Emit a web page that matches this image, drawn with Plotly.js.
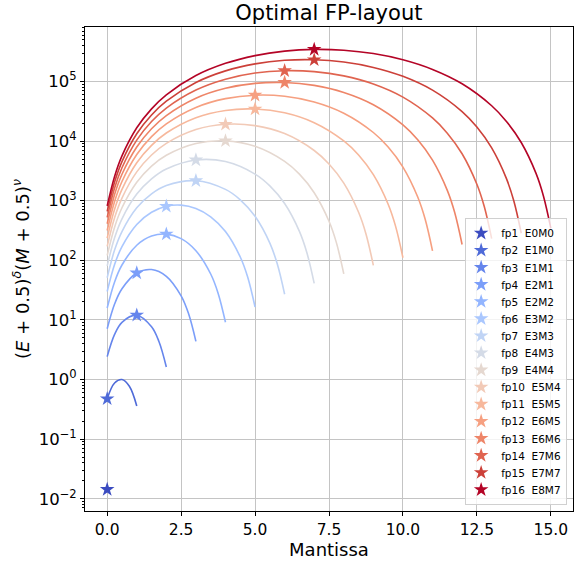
<!DOCTYPE html>
<html>
<head>
<meta charset="utf-8">
<script src="https://cdn.plot.ly/plotly-3.0.1.min.js"></script>
<style>html,body{margin:0;padding:0;background:#fff;}#chart{width:580px;height:569px;}</style>
</head>
<body>
<div id="chart"></div>
<script>
// Curves: one per total bit budget n = E + M (n = 1..15); x = mantissa bits, y given as log10 of (E+0.5)^δ(M+0.5)^ν
const curveMantissa = [
  [0,0.25,0.5,0.75,1],
  [0,0.25,0.5,1,1.5,1.75,2],
  [0,0.25,0.5,1,1.5,2,2.5,2.75,3],
  [0,0.25,0.5,1,1.5,2,2.5,3,3.5,3.75,4],
  [0,0.25,0.5,1,1.5,2,2.5,3,3.5,4,4.5,4.75,5],
  [0,0.25,0.5,1,1.5,2,3,4,4.5,5,5.5,5.75,6],
  [0,0.25,0.5,1,1.5,2,3,4,5,5.5,6,6.5,6.75,7],
  [0,0.25,0.5,1,1.5,2,3,4,5,6,6.5,7,7.5,7.75,8],
  [0,0.25,0.5,1,1.5,2,3,4,5,6,7,7.5,8,8.5,8.75,9],
  [0,0.25,0.5,1,1.5,2,3,4,5,6,7,8,8.5,9,9.5,9.75,10],
  [0,0.25,0.5,1,1.5,2,3,4,5,6,7,8,9,9.5,10,10.5,10.75,11],
  [0,0.25,0.5,1,1.5,2,3,4,5,6,7,8,9,10,10.5,11,11.5,11.75,12],
  [0,0.25,0.5,1,1.5,2,3,4,5,6,7,8,9,10,11,11.5,12,12.5,12.75,13],
  [0,0.25,0.5,1,1.5,2,3,4,5,6,7,8,9,10,11,12,12.5,13,13.5,13.75,14],
  [0,0.25,0.5,1,1.5,2,3,4,5,6,7,8,9,10,11,12,13,13.5,14,14.5,14.75,15]
];
const curveLog10Y = [
  [-0.323,-0.058,0.000,-0.114,-0.443],
  [0.384,0.756,0.960,1.079,0.885,0.637,0.210],
  [0.851,1.266,1.522,1.787,1.845,1.732,1.403,1.106,0.639],
  [1.199,1.637,1.921,2.253,2.407,2.439,2.363,2.161,1.770,1.449,0.960],
  [1.477,1.930,2.230,2.601,2.806,2.906,2.925,2.869,2.730,2.482,2.055,1.719,1.216],
  [1.708,2.172,2.482,2.880,3.115,3.254,3.335,3.190,3.015,2.738,2.288,1.941,1.430],
  [1.906,2.377,2.696,3.111,3.367,3.532,3.683,3.656,3.446,3.248,2.952,2.485,2.131,1.612],
  [2.080,2.556,2.881,3.309,3.581,3.763,3.961,4.004,3.912,3.659,3.445,3.134,2.655,2.296,1.772],
  [2.234,2.715,3.044,3.483,3.766,3.961,4.193,4.282,4.260,4.126,3.842,3.615,3.294,2.805,2.442,1.914],
  [2.373,2.857,3.190,3.637,3.929,4.135,4.391,4.514,4.538,4.474,4.308,4.002,3.766,3.436,2.940,2.573,2.042],
  [2.499,2.986,3.322,3.775,4.075,4.289,4.564,4.712,4.770,4.752,4.656,4.468,4.144,3.900,3.564,3.062,2.692,2.158],
  [2.614,3.104,3.443,3.901,4.207,4.428,4.719,4.885,4.968,4.983,4.934,4.816,4.610,4.272,4.022,3.680,3.173,2.801,2.265],
  [2.721,3.213,3.553,4.017,4.328,4.554,4.857,5.039,5.142,5.181,5.166,5.094,4.958,4.738,4.388,4.133,3.787,3.275,2.901,2.363],
  [2.820,3.313,3.656,4.124,4.439,4.669,4.983,5.178,5.296,5.355,5.364,5.326,5.236,5.086,4.854,4.494,4.235,3.885,3.370,2.994,2.454],
  [2.912,3.407,3.752,4.223,4.541,4.776,5.099,5.304,5.434,5.509,5.538,5.524,5.468,5.364,5.202,4.961,4.593,4.330,3.976,3.458,3.080,2.539]
];

// Optimal formats (stars)
const starLabels = ['fp1','fp2','fp3','fp4','fp5','fp6','fp7','fp8','fp9','fp10','fp11','fp12','fp13','fp14','fp15','fp16'];
const starLayouts = ['E0M0','E1M0','E1M1','E2M1','E2M2','E3M2','E3M3','E4M3','E4M4','E5M4','E5M5','E6M5','E6M6','E7M6','E7M7','E8M7'];
const starMantissa = [0,0,1,1,2,2,3,3,4,4,5,5,6,6,7,7];
const starLog10Y = [-1.845,-0.323,1.079,1.787,2.439,2.906,3.335,3.683,4.004,4.282,4.538,4.770,4.983,5.181,5.364,5.538];

// coolwarm samples
const colors = ['rgb(59,76,192)','rgb(78,106,216)','rgb(101,133,236)','rgb(123,158,249)','rgb(147,181,255)','rgb(170,199,254)','rgb(192,212,245)','rgb(212,219,231)','rgb(229,216,208)','rgb(242,202,183)','rgb(247,184,156)','rgb(246,160,129)','rgb(238,133,104)','rgb(224,100,80)','rgb(204,64,57)','rgb(180,4,38)'];

const yTickVals = [0.01,0.1,1,10,100,1000,1e4,1e5];
const yTickText = ['10<sup>−2</sup>','10<sup>−1</sup>','10<sup>0</sup>','10<sup>1</sup>','10<sup>2</sup>','10<sup>3</sup>','10<sup>4</sup>','10<sup>5</sup>'];

const traces = [];
curveMantissa.forEach((xs, i) => {
  traces.push({
    x: xs,
    y: curveLog10Y[i].map(v => Math.pow(10, v)),
    mode: 'lines',
    type: 'scatter',
    line: {color: colors[i + 1], width: 1.6, shape: 'spline', smoothing: 1},
    showlegend: false,
    hoverinfo: 'skip'
  });
});
starLabels.forEach((lab, i) => {
  traces.push({
    x: [starMantissa[i]],
    y: [Math.pow(10, starLog10Y[i])],
    mode: 'markers',
    type: 'scatter',
    name: lab + '\u00a0\u00a0' + starLayouts[i],
    marker: {symbol: 'star', size: 11, color: colors[i], line: {width: 0}}
  });
});

const FONT = 'DejaVu Sans, sans-serif';
const layout = {
  width: 580, height: 569,
  margin: {l: 85, r: 7, t: 27, b: 58},
  paper_bgcolor: '#fff', plot_bgcolor: '#fff',
  font: {family: FONT, color: '#000'},
  title: {text: 'Optimal FP-layout', font: {family: FONT, size: 21, color: '#000'}, x: 0.567, xanchor: 'center', y: 0.978, yanchor: 'middle'},
  xaxis: {
    range: [-0.75, 15.75],
    tickmode: 'array', tickvals: [0,2.5,5,7.5,10,12.5,15], ticktext: ['0.0','2.5','5.0','7.5','10.0','12.5','15.0'],
    tickfont: {size: 15.5},
    ticks: 'outside', ticklen: 4, tickcolor: '#000',
    showgrid: true, gridcolor: '#c4c4c4', gridwidth: 1,
    showline: true, linecolor: '#000', linewidth: 1, mirror: true,
    zeroline: false,
    title: {text: 'Mantissa', font: {size: 18}, standoff: 4}
  },
  yaxis: {
    type: 'log',
    range: [-2.206, 5.914],
    tickmode: 'array', tickvals: yTickVals, ticktext: yTickText,
    tickfont: {size: 16.5},
    ticks: 'outside', ticklen: 4, tickcolor: '#000',
    minor: {ticks: 'outside', ticklen: 2, tickcolor: '#000', dtick: 'D1', showgrid: false},
    showgrid: true, gridcolor: '#c4c4c4', gridwidth: 1,
    showline: true, linecolor: '#000', linewidth: 1, mirror: true,
    zeroline: false,
    title: {text: '(<i>E</i> + 0.5)<sup><i>δ</i></sup>(<i>M</i> + 0.5)<sup><i>ν</i></sup>', font: {size: 18}, standoff: 4}
  },
  legend: {
    x: 0.988, xanchor: 'right', y: 0.012, yanchor: 'bottom',
    bgcolor: 'rgba(255,255,255,0.8)', bordercolor: '#d0d0d0', borderwidth: 1,
    font: {size: 10.5, family: FONT}
  },
  showlegend: true
};

const gd = document.getElementById('chart');
Plotly.newPlot(gd, traces, layout, {displayModeBar: false, staticPlot: true}).then(() => {
  // tighten legend row spacing and side padding to match the reference
  const items = gd.querySelectorAll('.legend .traces');
  if (items.length < 2) return;
  const parse = el => /translate\(\s*([-\d.]+)[ ,]+([-\d.]+)\s*\)/.exec(el.getAttribute('transform') || '');
  const m0 = parse(items[0]), m1 = parse(items[1]);
  if (!m0 || !m1) return;
  const y0 = parseFloat(m0[2]);
  const oldStep = parseFloat(m1[2]) - y0;
  const step = 17.1;
  const dx = -5, trimW = 5;
  items.forEach((el, i) => {
    const m = parse(el);
    if (m) el.setAttribute('transform', 'translate(' + (parseFloat(m[1]) + dx) + ',' + (y0 + i * step) + ')');
  });
  const shrink = (items.length - 1) * (oldStep - step);
  const bg = gd.querySelector('.legend .bg');
  if (bg) {
    bg.setAttribute('height', parseFloat(bg.getAttribute('height')) - shrink);
    bg.setAttribute('width', parseFloat(bg.getAttribute('width')) - trimW);
  }
  const lg = gd.querySelector('.legend');
  const ml = parse(lg);
  if (ml) lg.setAttribute('transform', 'translate(' + (parseFloat(ml[1]) + trimW) + ',' + (parseFloat(ml[2]) + shrink) + ')');
});
</script>
</body>
</html>
